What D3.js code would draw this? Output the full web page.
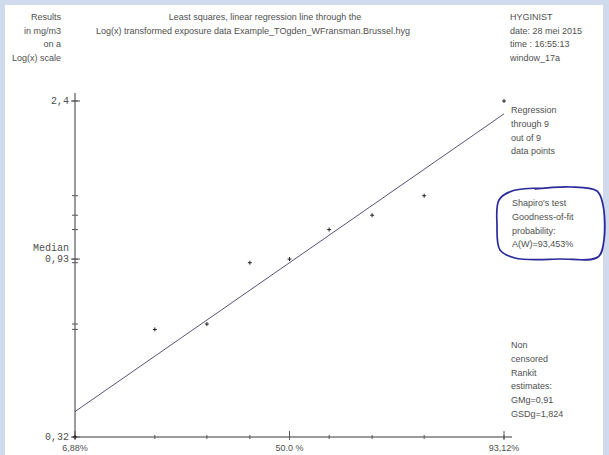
<!DOCTYPE html>
<html>
<head>
<meta charset="utf-8">
<script src="https://cdn.jsdelivr.net/npm/d3@7"></script>
<style>
  html, body { margin: 0; padding: 0; background: #ffffff; }
  svg { display: block; }
</style>
</head>
<body>
<svg id="chart" width="609" height="455"></svg>
<script>
// Measured exposure concentrations (mg/m3), sorted ascending
const concentrations = [0.32, 0.61, 0.63, 0.91, 0.93, 1.11, 1.21, 1.36, 2.4];
// Expected normal order statistics (rankits) for n = 9
const rankits = [-1.485, -0.9323, -0.5720, -0.2745, 0, 0.2745, 0.5720, 0.9323, 1.485];
// Labelled axis ticks
const xTickValues = [-1.485, 0, 1.485];
const xTickLabels = ["6,88%", "50.0 %", "93,12%"];
const yTickValues = [0.32, 0.93, 2.4];
const yTickLabels = ["0,32", "0,93", "2,4"];
// Regression estimates
const GMg = 0.91;
const GSDg = 1.824;

const headerLeft = ["Results", "in mg/m3", "on a", "Log(x) scale"];
const headerTitle1 = ["Least squares, linear regression line through the"];
const headerTitle2 = ["Log(x) transformed exposure data Example_TOgden_WFransman.Brussel.hyg"];
const headerRight = ["HYGINIST", "date: 28 mei 2015", "time : 16:55:13", "window_17a"];
const noteRegression = ["Regression", "through 9", "out of 9", "data points"];
const noteShapiro = ["Shapiro's test", "Goodness-of-fit", "probability:", "A(W)=93,453%"];
const noteRankit = ["Non", "censored", "Rankit", "estimates:", "GMg=0,91", "GSDg=1,824"];

const svg = d3.select("#chart");
const W = 609, H = 455;
const textColor = "#4f4f4f";
const axisColor = "#7a7a7a";
const sans = "Liberation Sans, Arial, sans-serif";
const mono = "Liberation Mono, Courier New, monospace";

// window frame
const frame = "#cfdaec";
svg.append("rect").attr("x", 0).attr("y", 0).attr("width", W).attr("height", H).attr("fill", frame);
svg.append("rect").attr("x", 5).attr("y", 5).attr("width", 598).attr("height", H - 5).attr("fill", "#ffffff");

const x = d3.scaleLinear().domain([-1.485, 1.485]).range([75, 504]);
const y = d3.scaleLog().domain([0.32, 2.4]).range([437, 101]);

// text blocks
function block(lines, xPos, y0, anchor, step) {
  const t = svg.append("g");
  lines.forEach((s, i) => {
    t.append("text")
      .attr("x", xPos).attr("y", y0 + i * step)
      .attr("text-anchor", anchor)
      .attr("font-family", sans)
      .attr("font-size", 9)
      .attr("fill", textColor)
      .text(s);
  });
}
block(headerLeft, 61, 20, "end", 13.7);
block(headerTitle1, 265, 20, "middle", 13.7);
block(headerTitle2, 253, 33.7, "middle", 13.7);
block(headerRight, 510, 20, "start", 13.7);
block(noteRegression, 511, 113, "start", 13.8);
block(noteShapiro, 512, 206, "start", 13.8);
block(noteRankit, 511, 348, "start", 13.8);

// y axis
const yAxisG = svg.append("g").attr("transform", `translate(${x.range()[0]},0)`);
yAxisG.append("line").attr("y1", 93).attr("y2", y(0.32))
  .attr("stroke", axisColor).attr("stroke-width", 1.5);
// ticks at every data value
yAxisG.selectAll("line.minor").data(concentrations).join("line")
  .attr("class", "minor")
  .attr("x1", -3).attr("x2", 3)
  .attr("y1", d => y(d)).attr("y2", d => y(d))
  .attr("stroke", "#555").attr("stroke-width", 1);
yAxisG.selectAll("line.major").data(yTickValues).join("line")
  .attr("class", "major")
  .attr("x1", -4).attr("x2", 5)
  .attr("y1", d => y(d)).attr("y2", d => y(d))
  .attr("stroke", "#555").attr("stroke-width", 1);
yAxisG.selectAll("text.tl").data(yTickValues).join("text")
  .attr("class", "tl")
  .attr("x", -6).attr("y", d => y(d) + 3)
  .attr("text-anchor", "end")
  .attr("font-family", mono)
  .attr("font-size", 10)
  .attr("fill", textColor)
  .text((d, i) => yTickLabels[i]);
yAxisG.append("text")
  .attr("x", -6).attr("y", y(0.93) - 8)
  .attr("text-anchor", "end")
  .attr("font-family", mono)
  .attr("font-size", 10)
  .attr("fill", textColor)
  .text("Median");

// x axis
const xAxisG = svg.append("g").attr("transform", `translate(0,${y(0.32)})`);
xAxisG.append("line").attr("x1", x(-1.485)).attr("x2", x(1.485) + 8)
  .attr("stroke", axisColor).attr("stroke-width", 1.5);
xAxisG.selectAll("line.minor").data(rankits).join("line")
  .attr("class", "minor")
  .attr("x1", d => x(d)).attr("x2", d => x(d))
  .attr("y1", -2).attr("y2", 2)
  .attr("stroke", "#555").attr("stroke-width", 1);
xAxisG.selectAll("line.major").data(xTickValues).join("line")
  .attr("class", "major")
  .attr("x1", d => x(d)).attr("x2", d => x(d))
  .attr("y1", -6).attr("y2", 3)
  .attr("stroke", "#555").attr("stroke-width", 1);
xAxisG.selectAll("text.tl").data(xTickValues).join("text")
  .attr("class", "tl")
  .attr("x", d => x(d)).attr("y", 14)
  .attr("text-anchor", "middle")
  .attr("font-family", sans)
  .attr("font-size", 9)
  .attr("fill", textColor)
  .text((d, i) => xTickLabels[i]);

// regression line: log10(c) = log10(GMg) + z * log10(GSDg)
const zEnds = d3.extent(rankits);
const line = d3.line().x(d => x(d)).y(d => y(GMg * Math.pow(GSDg, d)));
svg.append("path").datum(zEnds)
  .attr("d", line)
  .attr("fill", "none")
  .attr("stroke", "#55557a").attr("stroke-width", 1);

// data points as small crosses
const pts = svg.append("g").selectAll("g").data(concentrations).join("g")
  .attr("transform", (d, i) => `translate(${x(rankits[i])},${y(d)})`);
pts.append("line").attr("x1", -2).attr("x2", 2).attr("stroke", "#222").attr("stroke-width", 1);
pts.append("line").attr("y1", -2).attr("y2", 2).attr("stroke", "#222").attr("stroke-width", 1);

// hand-drawn loop around the Shapiro note
const loop = [[545, 188], [512, 191], [499, 200], [497, 225], [500, 250], [515, 258],
              [560, 259], [598, 257], [604, 240], [603, 205], [597, 191], [570, 187], [535, 189]];
svg.append("path").datum(loop)
  .attr("d", d3.line().curve(d3.curveCatmullRom.alpha(0.5)))
  .attr("fill", "none")
  .attr("stroke", "#2a2a9c").attr("stroke-width", 1.7)
  .attr("stroke-linecap", "round");
</script>
</body>
</html>
